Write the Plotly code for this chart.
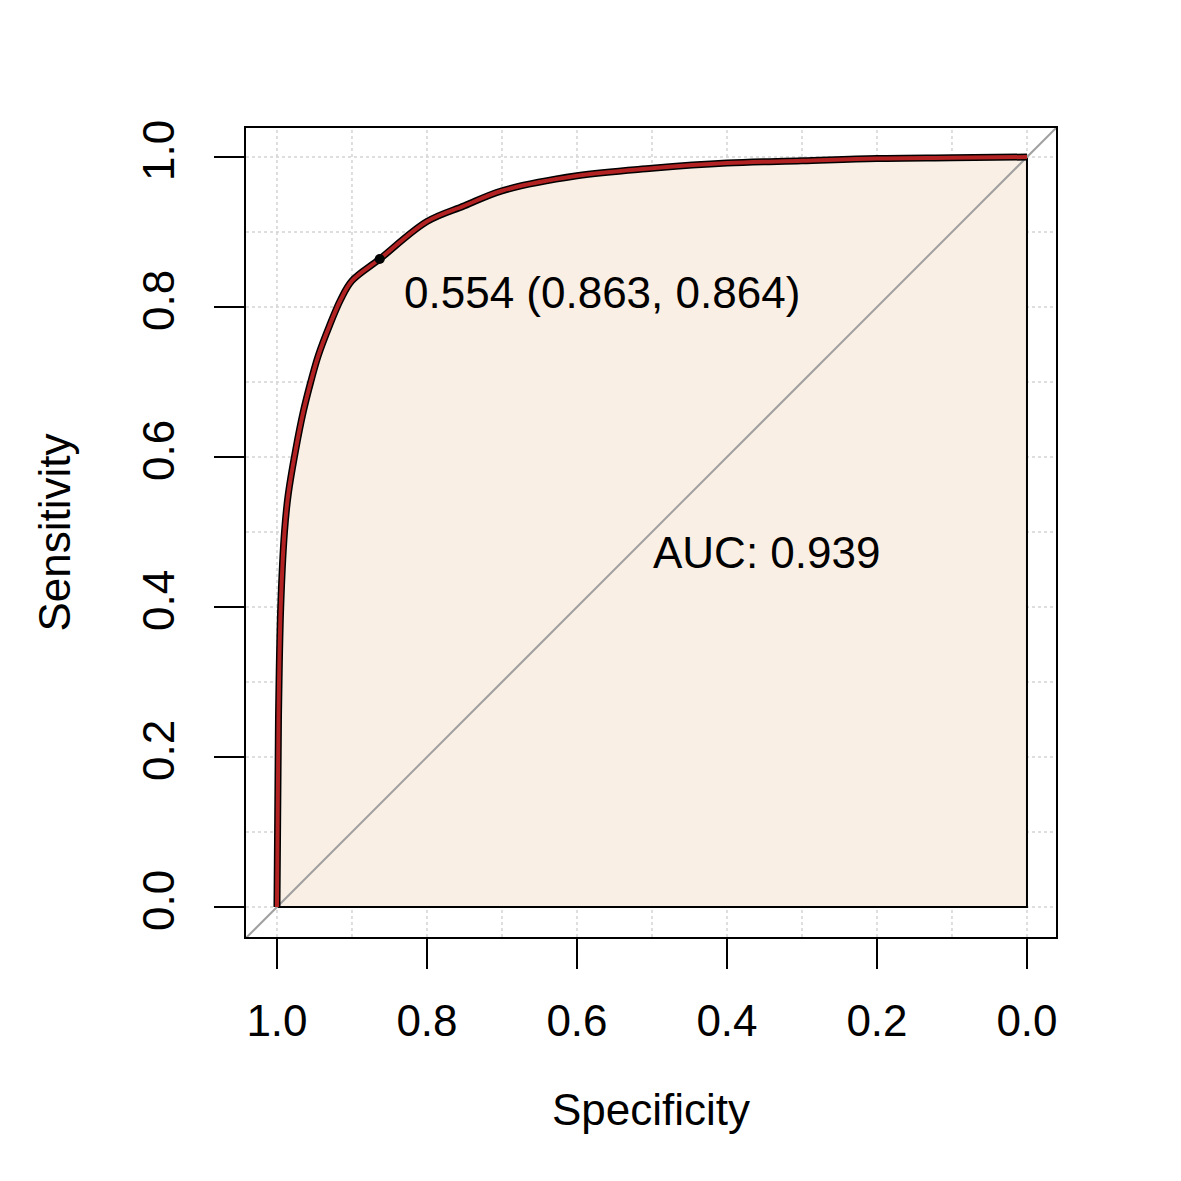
import plotly.graph_objects as go

# ROC curve
specificity = [1.0, 0.998, 0.995, 0.99, 0.985, 0.975, 0.965, 0.955, 0.945, 0.93, 0.915, 0.9, 0.863,
               0.8, 0.75, 0.7, 0.6, 0.5, 0.4, 0.3, 0.2, 0.1, 0.0]
sensitivity = [0.0, 0.25, 0.4, 0.5, 0.55, 0.61, 0.66, 0.7, 0.735, 0.775, 0.81, 0.835, 0.864,
               0.914, 0.935, 0.955, 0.975, 0.985, 0.992, 0.995, 0.998, 0.999, 1.0]
best_spec, best_sens = 0.863, 0.864
best_label = "0.554 (0.863, 0.864)"
auc_label = "AUC: 0.939"
ticks = [1.0, 0.8, 0.6, 0.4, 0.2, 0.0]
tick_text = ["1.0", "0.8", "0.6", "0.4", "0.2", "0.0"]

FONT = "Liberation Sans, Arial"
XR = [1.0413, -0.0387]
YR = [-0.04, 1.0387]

fig = go.Figure()

# Dotted grid
for g in [i / 10 for i in range(11)]:
    fig.add_shape(type="line", x0=g, x1=g, y0=YR[0], y1=YR[1],
                  line=dict(color="#d3d3d3", width=1.5, dash="dot"), layer="below")
    fig.add_shape(type="line", x0=XR[0], x1=XR[1], y0=g, y1=g,
                  line=dict(color="#d3d3d3", width=1.5, dash="dot"), layer="below")

# Filled area under curve
fig.add_trace(go.Scatter(
    x=specificity + [0.0, 1.0], y=sensitivity + [0.0, 0.0],
    mode="lines", fill="toself", fillcolor="#FAEFE5",
    line=dict(color="black", width=2), hoverinfo="skip"))

# Diagonal
fig.add_trace(go.Scatter(x=[XR[0], XR[1]], y=[1 - XR[0], 1 - XR[1]], mode="lines",
                         line=dict(color="#a0a0a0", width=2)))

# Curve: black underneath, red on top
fig.add_trace(go.Scatter(x=specificity, y=sensitivity, mode="lines",
                         line=dict(color="black", width=7, shape="spline")))
fig.add_trace(go.Scatter(x=specificity, y=sensitivity, mode="lines",
                         line=dict(color="#B22222", width=4, shape="spline")))
fig.add_trace(go.Scatter(x=[best_spec], y=[best_sens], mode="markers",
                         marker=dict(color="black", size=10)))

fig.add_annotation(x=0.833, y=0.82, text=best_label, showarrow=False,
                   xanchor="left", font=dict(size=44, color="black", family=FONT))
fig.add_annotation(x=0.501, y=0.473, text=auc_label, showarrow=False,
                   xanchor="left", font=dict(size=44, color="black", family=FONT))

axis_common = dict(showline=True, mirror=True, linecolor="black", linewidth=2,
                   showgrid=False, zeroline=False, ticks="outside", ticklen=30,
                   tickwidth=2, tickcolor="black", tickvals=ticks, ticktext=tick_text,
                   tickfont=dict(size=44, family=FONT, color="black"))

fig.update_layout(
    width=1181, height=1181, showlegend=False,
    plot_bgcolor="white", paper_bgcolor="white",
    margin=dict(l=238, r=133, t=120, b=252),
    xaxis=dict(range=XR, ticklabelstandoff=14,
               title=dict(text="Specificity", standoff=50,
                          font=dict(size=44, family=FONT, color="black")), **axis_common),
    yaxis=dict(range=YR, tickangle=-90, ticklabelstandoff=22,
               title=dict(text="Sensitivity", standoff=50,
                          font=dict(size=44, family=FONT, color="black")), **axis_common),
)

fig.write_html("out.html")
